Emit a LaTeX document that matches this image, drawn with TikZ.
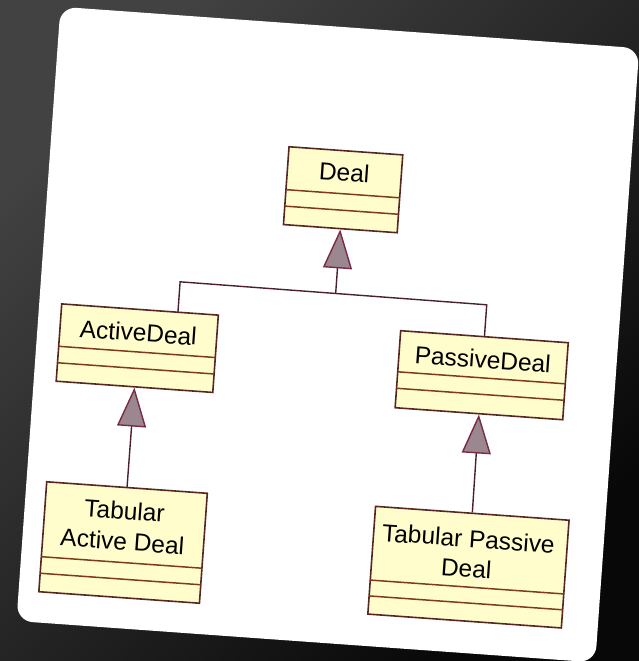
\documentclass[tikz,border=0pt]{standalone}
\usepackage{fontspec}
\setmainfont{Liberation Sans}
\usetikzlibrary{arrows.meta}
\definecolor{bgA}{HTML}{424242}
\definecolor{bgB}{HTML}{080808}
\definecolor{boxfill}{HTML}{FFFDCB}
\definecolor{boxline}{HTML}{552622}
\definecolor{divline}{HTML}{7E3A1C}
\definecolor{connline}{HTML}{4A2030}
\definecolor{trifill}{HTML}{9A8790}
\definecolor{triline}{HTML}{7A2A44}
\begin{document}
\begin{tikzpicture}[x=1pt,y=1pt,
  classbox/.style={draw=boxline, fill=boxfill, line width=1.6pt, inner sep=0pt, rectangle},
  divider/.style={draw=divline, line width=1.5pt},
  nametext/.style={font=\fontsize{24.5}{30}\selectfont, align=center, inner sep=0pt, text=black},
  conn/.style={draw=connline, line width=1.4pt},
  gen/.style={conn, -{Triangle[color=triline, fill=trifill, width=29pt, length=39pt]}},
]
\shade[top color=bgA, bottom color=bgB, shading angle=45] (0,0) rectangle (639,-661);
\useasboundingbox (0,0) rectangle (639,-661);
\begin{scope}[shift={(327.75,-334)}, rotate=-4.1, transform shape]
  \fill[white, rounded corners=16pt] (-290,307.3) rectangle (290.3,-308.5);
  % class boxes
  \node[classbox, minimum width=114pt, minimum height=78pt] (deal) at (5,145) {};
  \node[classbox, minimum width=157pt, minimum height=77.5pt] (active) at (-189,-27.75) {};
  \node[classbox, minimum width=168pt, minimum height=77.2pt] (passive) at (156.5,-30.1) {};
  \node[classbox, minimum width=161pt, minimum height=110.2pt] (tad) at (-189.25,-222.6) {};
  \node[classbox, minimum width=194pt, minimum height=108pt] (tpd) at (157,-222.5) {};
  % dividers
  \draw[divider] (-52,141) -- (62,141);
  \draw[divider] (-52,124.5) -- (62,124.5);
  \draw[divider] (-267.5,-31.5) -- (-110.5,-31.5);
  \draw[divider] (-267.5,-48) -- (-110.5,-48);
  \draw[divider] (72.5,-32.7) -- (240.5,-32.7);
  \draw[divider] (72.5,-49.2) -- (240.5,-49.2);
  \draw[divider] (-269.75,-242.6) -- (-108.75,-242.6);
  \draw[divider] (-269.75,-259.2) -- (-108.75,-259.2);
  \draw[divider] (60,-242.4) -- (254,-242.4);
  \draw[divider] (60,-258.3) -- (254,-258.3);
  % names
  \node[nametext] (dealT) at (5,162) {Deal};
  \node[nametext] (activeT) at (-189,-12) {ActiveDeal};
  \node[nametext] (passiveT) at (156.5,-14) {PassiveDeal};
  \node[nametext, font=\fontsize{24.5}{31}\selectfont] (tadT) at (-190,-206) {Tabular\\Active Deal};
  \node[nametext, font=\fontsize{24.5}{30}\selectfont] (tpdT) at (155,-209) {Tabular Passive\\Deal};
  % connectors
  \coordinate (barL) at (-151,41.5);
  \coordinate (barR) at (156.5,40.5);
  \coordinate (barM) at (5,41);
  \coordinate (aJoin) at (-151,11);
  \draw[conn] (aJoin) -- (barL) -- (barR) -- (passive.north);
  \draw[gen] (barM) -- (deal.south);
  \draw[gen] (tad.north) -- (active.south);
  \draw[gen] (tpd.north) -- (passive.south);
\end{scope}
\end{tikzpicture}
\end{document}
